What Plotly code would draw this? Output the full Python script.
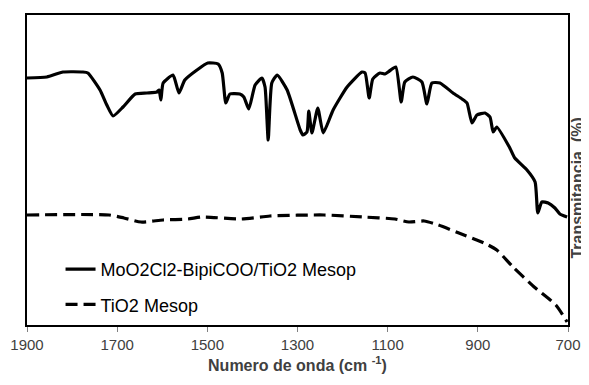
import plotly.graph_objects as go

# Wavenumber (cm-1) and transmittance (arbitrary units)
wn_complex = [1900, 1856, 1820, 1776, 1765, 1738, 1723, 1709, 1687, 1660, 1634, 1612, 1607, 1603,
              1598, 1576, 1563, 1550, 1523, 1499, 1476, 1467, 1459, 1450, 1428, 1419, 1408, 1394,
              1379, 1372, 1365, 1357, 1345, 1323, 1294, 1288, 1279, 1275, 1268, 1255, 1243, 1221,
              1190, 1157, 1150, 1141, 1133, 1117, 1106, 1099, 1082, 1070, 1062, 1044, 1024, 1013,
              1002, 984, 955, 935, 924, 913, 902, 884, 873, 866, 858, 829, 818, 791, 773, 767,
              758, 744, 729, 718, 702]
t_complex = [247, 248, 253, 253, 252, 235, 220, 209, 218, 231, 232, 233, 235, 225,
             242, 250, 232, 245, 255, 262, 261, 252, 222, 231, 231, 228, 216, 240,
             247, 238, 185, 242, 250, 235, 195, 190, 193, 214, 192, 217, 192, 215,
             238, 253, 252, 227, 246, 252, 251, 253, 258, 223, 243, 248, 243, 221,
             242, 242, 232, 226, 222, 202, 210, 212, 208, 193, 198, 177, 167, 155, 143, 112,
             123, 122, 117, 111, 108]

wn_tio2 = [1900, 1718, 1685, 1647, 1598, 1543, 1512, 1425, 1361, 1241, 1155, 1084, 1053,
           1019, 988, 942, 886, 858, 822, 775, 727, 702]
t_tio2 = [110, 110, 107, 103, 105, 106, 108, 106, 109, 110, 108, 106, 103,
          104, 100, 92, 82, 75, 58, 38, 20, 3]

x_ticks = [1900, 1700, 1500, 1300, 1100, 900, 700]

FONT = "Liberation Sans, Arial, sans-serif"

fig = go.Figure()
fig.add_trace(go.Scatter(x=wn_complex, y=t_complex, mode="lines",
                         name="MoO2Cl2-BipiCOO/TiO2 Mesop", legendgroup="a",
                         line=dict(color="black", width=3.2, shape="spline", smoothing=0.5)))
fig.add_trace(go.Scatter(x=wn_tio2, y=t_tio2, mode="lines",
                         name="TiO2 Mesop", legendgroup="b",
                         line=dict(color="black", width=3.2, dash="12px,6px",
                                   shape="spline", smoothing=0.6)))

# page body has an 8px margin, so the figure is sized/offset to fill the 589x385 window
fig.update_layout(
    width=581, height=377,
    margin=dict(l=19, r=21, t=7, b=60, autoexpand=False),
    paper_bgcolor="white", plot_bgcolor="white",
    font=dict(family=FONT, color="#404040", size=15),
    showlegend=True,
    legend=dict(x=0.062, y=0.123, xanchor="left", yanchor="middle",
                bgcolor="rgba(0,0,0,0)", tracegroupgap=9,
                font=dict(family=FONT, size=18, color="black")),
    xaxis=dict(range=[1900, 700], tickvals=x_ticks, ticktext=[str(v) for v in x_ticks],
               showgrid=False, zeroline=False, showline=True, linecolor="black",
               linewidth=2, mirror=True, ticks="outside", ticklen=5, tickcolor="#808080",
               tickfont=dict(family=FONT, size=15, color="#404040"),
               title=dict(text="<b>Numero de onda (cm <sup>-1</sup>)</b>",
                          font=dict(family=FONT, size=16, color="#404040"), standoff=8)),
    yaxis=dict(range=[0, 310], showticklabels=False, showgrid=False, zeroline=False,
               showline=True, linecolor="black", linewidth=2, mirror=True, ticks=""),
    annotations=[dict(text="<b>Transmitancia  (%)</b>", textangle=-90,
                      xref="paper", yref="paper", x=1.0, y=0.44, xanchor="center",
                      yanchor="middle", xshift=10, showarrow=False,
                      font=dict(family=FONT, size=16, color="#404040"))],
)

fig.write_html("out.html")
